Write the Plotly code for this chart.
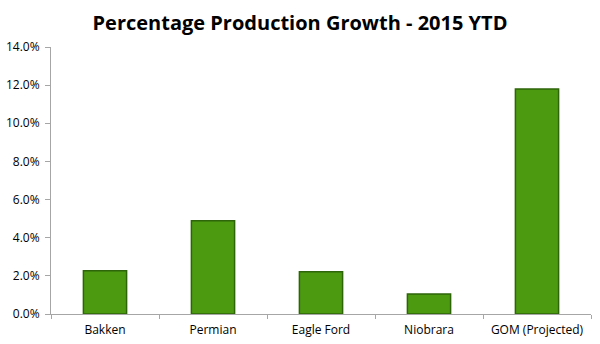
import plotly.graph_objects as go

categories = ["Bakken", "Permian", "Eagle Ford", "Niobrara", "GOM (Projected)"]
growth = [0.0227, 0.0489, 0.0222, 0.0105, 0.118]
y_ticks = [0, 0.02, 0.04, 0.06, 0.08, 0.10, 0.12, 0.14]

fig = go.Figure(go.Bar(
    x=categories, y=growth,
    marker=dict(color="#4b9a10", line=dict(color="#2e640a", width=1.5)),
    width=0.4,
))
fig.update_layout(
    width=600, height=344,
    margin=dict(l=51, r=9, t=47, b=30),
    paper_bgcolor="white", plot_bgcolor="white",
    title=dict(text="<b>Percentage Production Growth - 2015 YTD</b>",
               x=0.5, xanchor="center", y=1 - 23/344, yanchor="middle",
               font=dict(family="Open Sans", size=20, color="black")),
    font=dict(family="Open Sans", size=12, color="black"),
    showlegend=False,
)
fig.update_yaxes(range=[0, 0.14], tickvals=y_ticks, tickformat=".1%",
                 showgrid=False, showline=True, linecolor="#a6a6a6", linewidth=1,
                 ticks="outside", ticklen=5, tickcolor="#a6a6a6", zeroline=False,
                 ticklabelstandoff=3, automargin=False)
fig.update_xaxes(showline=True, linecolor="#a6a6a6", linewidth=1,
                 ticks="outside", tickson="boundaries", ticklen=4, tickcolor="#a6a6a6",
                 ticklabelstandoff=5, automargin=False)
fig.write_html("out.html")
